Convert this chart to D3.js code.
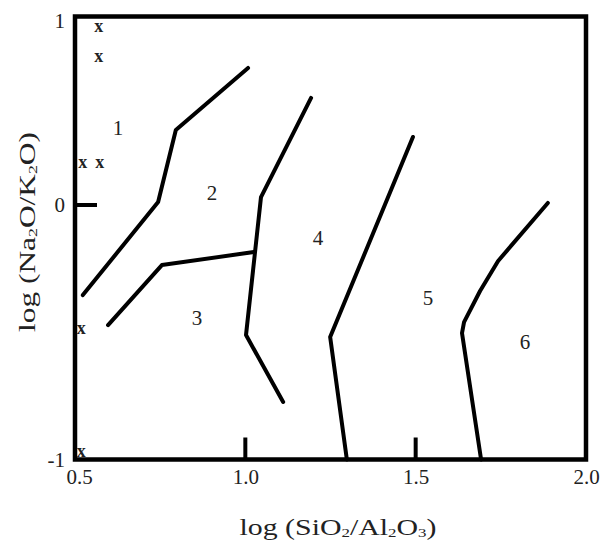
<!DOCTYPE html>
<html>
<head>
<meta charset="utf-8">
<script src="https://cdn.jsdelivr.net/npm/d3@7"></script>
<style>
  body { margin: 0; background: #fff; }
  svg text { font-family: "Liberation Serif", "Times New Roman", serif; fill: #222; }
</style>
</head>
<body>
<div id="chart"></div>
<script>
// boundary lines, [log SiO2/Al2O3, log Na2O/K2O]
const lineA = [[0.523, -0.354], [0.744, 0.016], [0.796, 0.398], [1.008, 0.727]];
const lineB = [[0.597, -0.472], [0.755, -0.236], [1.025, -0.185]];
const lineC = [[1.193, 0.568], [1.046, 0.042], [1.002, -0.511], [1.111, -0.774]];
const lineD = [[1.492, 0.361], [1.249, -0.519], [1.298, -1.0]];
const lineE = [[1.888, 0.011], [1.742, -0.220], [1.689, -0.338], [1.642, -0.460], [1.636, -0.503], [1.692, -1.0]];

const zoneNames = ['1', '2', '3', '4', '5', '6'];
const zoneX = [0.626, 0.902, 0.858, 1.213, 1.536, 1.821];
const zoneY = [0.408, 0.064, -0.444, -0.130, -0.365, -0.538];

const sampleX = [0.570, 0.570, 0.523, 0.573, 0.518, 0.518];
const sampleY = [0.944, 0.780, 0.218, 0.218, -0.491, -0.971];

const xTicks = [0.5, 1.0, 1.5, 2.0];
const yTicks = [-1, 0, 1];
const xInnerTicks = [1.0, 1.5];
const yInnerTicks = [0];

const width = 604, height = 552;

const x = d3.scaleLinear().domain([0.5, 2.0]).range([75, 586]);
// the original figure is not evenly spaced on y
const y = d3.scaleLinear().domain([-1, 0, 1]).range([459.5, 205, 16.5]);

const svg = d3.select('#chart').append('svg')
  .attr('width', width)
  .attr('height', height);

// frame
svg.append('rect')
  .attr('x', x(0.5))
  .attr('y', y(1))
  .attr('width', x(2.0) - x(0.5))
  .attr('height', y(-1) - y(1))
  .attr('fill', 'none')
  .attr('stroke', '#000')
  .attr('stroke-width', 4.5);

// inner tick marks
svg.selectAll('.xtick')
  .data(xInnerTicks)
  .enter()
  .append('line')
  .attr('x1', d => x(d)).attr('x2', d => x(d))
  .attr('y1', y(-1)).attr('y2', y(-1) - 22)
  .attr('stroke', '#000').attr('stroke-width', 4);

svg.selectAll('.ytick')
  .data(yInnerTicks)
  .enter()
  .append('line')
  .attr('x1', x(0.5)).attr('x2', x(0.5) + 22)
  .attr('y1', d => y(d)).attr('y2', d => y(d))
  .attr('stroke', '#000').attr('stroke-width', 4);

// tick labels
const xAxis = svg.append('g')
  .attr('transform', 'translate(0,' + y(-1) + ')')
  .call(d3.axisBottom(x).tickValues(xTicks).tickSize(0).tickPadding(10).tickFormat(d3.format('.1f')));
xAxis.select('.domain').remove();
xAxis.selectAll('text').style('font-size', '21px').style('font-family', '"Liberation Serif", serif').attr('fill', '#333');
xAxis.selectAll('text').filter(d => d === 0.5).attr('dx', 4);

const yAxis = svg.append('g')
  .attr('transform', 'translate(' + x(0.5) + ',0)')
  .call(d3.axisLeft(y).tickValues(yTicks).tickSize(0).tickPadding(10).tickFormat(d => String(d)));
yAxis.select('.domain').remove();
yAxis.selectAll('text').style('font-size', '21px').style('font-family', '"Liberation Serif", serif').attr('fill', '#333');
yAxis.selectAll('text').filter(d => d === 1).attr('dy', '0.5em');

// boundaries
const line = d3.line().x(d => x(d[0])).y(d => y(d[1]));
svg.selectAll('.boundary')
  .data([lineA, lineB, lineC, lineD, lineE])
  .enter()
  .append('path')
  .attr('d', line)
  .attr('fill', 'none')
  .attr('stroke', '#000')
  .attr('stroke-width', 4)
  .attr('stroke-linejoin', 'round')
  .attr('stroke-linecap', 'round');

// zone numbers
svg.selectAll('.zone')
  .data(zoneNames)
  .enter()
  .append('text')
  .attr('x', (d, i) => x(zoneX[i]))
  .attr('y', (d, i) => y(zoneY[i]))
  .attr('dy', '0.35em')
  .attr('text-anchor', 'middle')
  .style('font-size', '21px')
  .text(d => d);

// samples
svg.selectAll('.sample')
  .data(sampleX)
  .enter()
  .append('text')
  .attr('x', d => x(d))
  .attr('y', (d, i) => y(sampleY[i]))
  .attr('dy', '0.25em')
  .attr('text-anchor', 'middle')
  .style('font-size', '18px')
  .style('font-weight', 'bold')
  .attr('fill', '#444')
  .text('x');

// axis titles
function title(el, parts) {
  parts.forEach(p => {
    const t = el.append('tspan').text(p[0]);
    if (p[1]) t.style('font-size', '13px').attr('dy', 2);
    else if (p[2]) t.attr('dy', -2);
  });
}

const xt = svg.append('text')
  .attr('x', 338)
  .attr('y', 535)
  .attr('text-anchor', 'middle')
  .attr('textLength', 197)
  .attr('lengthAdjust', 'spacingAndGlyphs')
  .style('font-size', '23px');
title(xt, [['log (SiO'], ['2', true], ['/Al', false, true], ['2', true], ['O', false, true], ['3', true], [')', false, true]]);

const yt = svg.append('text')
  .attr('transform', 'translate(35,232) rotate(-90)')
  .attr('text-anchor', 'middle')
  .attr('textLength', 200)
  .attr('lengthAdjust', 'spacingAndGlyphs')
  .style('font-size', '23px');
title(yt, [['log (Na'], ['2', true], ['O/K', false, true], ['2', true], ['O)', false, true]]);
</script>
</body>
</html>
